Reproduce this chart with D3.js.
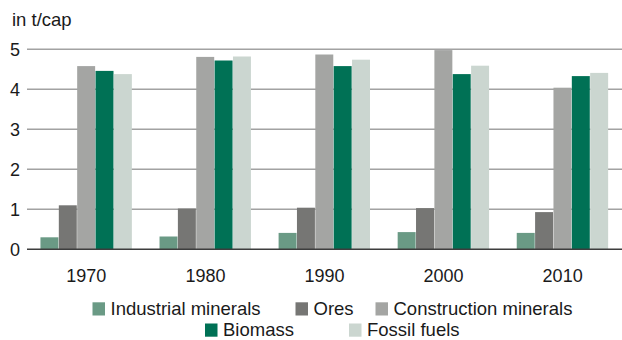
<!DOCTYPE html>
<html>
<head>
<meta charset="utf-8">
<script src="https://cdn.jsdelivr.net/npm/d3@7"></script>
<style>
  html, body { margin: 0; padding: 0; background: #fff; }
  svg { display: block; font-family: "Liberation Sans", Arial, Helvetica, sans-serif; }
</style>
</head>
<body>
<svg id="chart" width="622" height="340"></svg>
<script>
// Material consumption per capita, by material group
const years = ["1970", "1980", "1990", "2000", "2010"];
const seriesNames = ["Industrial minerals", "Ores", "Construction minerals", "Biomass", "Fossil fuels"];
const industrialMinerals   = [0.30, 0.32, 0.41, 0.43, 0.41];
const ores                 = [1.10, 1.02, 1.04, 1.03, 0.93];
const constructionMinerals = [4.58, 4.81, 4.87, 4.98, 4.04];
const biomass              = [4.46, 4.72, 4.58, 4.38, 4.33];
const fossilFuels          = [4.38, 4.82, 4.74, 4.59, 4.41];
const yTicks = [0, 1, 2, 3, 4, 5];
const unitLabel = "in t/cap";

const seriesValues = [industrialMinerals, ores, constructionMinerals, biomass, fossilFuels];
const colors = ["#6a9a85", "#767674", "#a4a5a3", "#007155", "#cbd6d0"];

const svg = d3.select("#chart");
const plot = { left: 27, right: 622, top: 49.3, bottom: 249.3 };

const x = d3.scaleBand()
  .domain(years)
  .range([plot.left, plot.right])
  .paddingInner(0.229)
  .paddingOuter(0.113);

const xInner = d3.scaleBand()
  .domain(seriesNames)
  .range([0, x.bandwidth()])
  .padding(0);

const y = d3.scaleLinear()
  .domain([0, 5])
  .range([plot.bottom, plot.top]);

// horizontal gridlines
svg.append("g")
  .selectAll("line")
  .data(yTicks.filter(t => t > 0))
  .join("line")
  .attr("x1", plot.left)
  .attr("x2", plot.right)
  .attr("y1", d => y(d))
  .attr("y2", d => y(d))
  .attr("stroke", "#a2a2a2")
  .attr("stroke-width", 1.4);

// y tick labels
svg.append("g")
  .selectAll("text")
  .data(yTicks)
  .join("text")
  .attr("x", 20)
  .attr("y", d => y(d))
  .attr("dy", "0.35em")
  .attr("text-anchor", "end")
  .attr("font-size", 18)
  .attr("fill", "#1a1a1a")
  .text(d => d);

// unit label
svg.append("text")
  .attr("x", 12)
  .attr("y", 25.5)
  .attr("font-size", 18.5)
  .attr("fill", "#1a1a1a")
  .text(unitLabel);

// bars
const rows = years.map((yr, i) => ({
  year: yr,
  values: seriesNames.map((name, s) => ({ name, s, value: seriesValues[s][i] }))
}));

svg.append("g")
  .selectAll("g")
  .data(rows)
  .join("g")
  .attr("transform", d => `translate(${x(d.year)},0)`)
  .selectAll("rect")
  .data(d => d.values)
  .join("rect")
  .attr("x", d => xInner(d.name))
  .attr("width", xInner.bandwidth() - 0.4)
  .attr("y", d => y(d.value))
  .attr("height", d => y(0) - y(d.value))
  .attr("fill", d => colors[d.s]);

// baseline
svg.append("line")
  .attr("x1", plot.left)
  .attr("x2", plot.right)
  .attr("y1", y(0))
  .attr("y2", y(0))
  .attr("stroke", "#3d3d3d")
  .attr("stroke-width", 1.5);

// x axis labels
svg.append("g")
  .selectAll("text")
  .data(years)
  .join("text")
  .attr("x", d => x(d) + x.bandwidth() / 2)
  .attr("y", 281.5)
  .attr("text-anchor", "middle")
  .attr("font-size", 18)
  .attr("fill", "#1a1a1a")
  .text(d => d);

// legend, two centred rows
const legendLayout = [
  { x: 92.5, row: 0 },
  { x: 295.5, row: 0 },
  { x: 375.5, row: 0 },
  { x: 205, row: 1 },
  { x: 349, row: 1 }
];
const rowTop = [302.3, 323.5];
const legend = svg.append("g")
  .selectAll("g")
  .data(seriesNames)
  .join("g")
  .attr("transform", (d, i) => `translate(${legendLayout[i].x},${rowTop[legendLayout[i].row]})`);

legend.append("rect")
  .attr("width", 12.5)
  .attr("height", 13.2)
  .attr("fill", (d, i) => colors[i]);

legend.append("text")
  .attr("x", 18)
  .attr("y", 6.4)
  .attr("dy", "0.35em")
  .attr("font-size", 18.5)
  .attr("fill", "#1a1a1a")
  .text(d => d);
</script>
</body>
</html>
